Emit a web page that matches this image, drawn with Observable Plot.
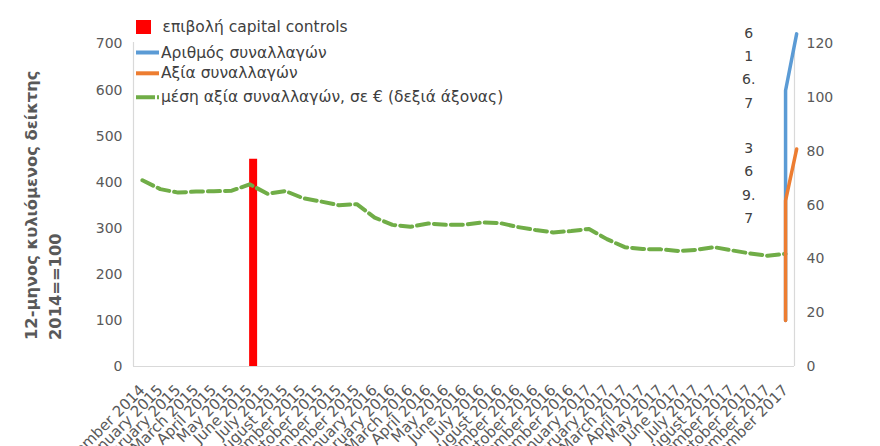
<!DOCTYPE html>
<html><head><meta charset="utf-8">
<script src="https://cdn.jsdelivr.net/npm/d3@7"></script>
<script src="https://cdn.jsdelivr.net/npm/@observablehq/plot@0.6"></script>
<style>
body{margin:0;background:#fff;}
#chart{position:relative;width:880px;height:446px;overflow:hidden;}
</style>
</head><body><div id="chart"></div>
<script>
const months = [
  "December 2014",
  "January 2015","February 2015","March 2015","April 2015","May 2015","June 2015",
  "July 2015","August 2015","September 2015","October 2015","November 2015","December 2015",
  "January 2016","February 2016","March 2016","April 2016","May 2016","June 2016",
  "July 2016","August 2016","September 2016","October 2016","November 2016","December 2016",
  "January 2017","February 2017","March 2017","April 2017","May 2017","June 2017",
  "July 2017","August 2017","September 2017","October 2017","November 2017","December 2017"
];
// μέση αξία συναλλαγών, σε € (right axis)
const avgValue = [69.3,66.0,64.7,65.1,65.2,65.4,67.8,64.3,65.3,62.6,61.4,60.0,60.4,
  55.4,52.7,52.0,53.2,52.7,52.7,53.6,53.4,51.9,50.8,49.9,50.4,51.2,47.4,
  44.4,43.7,43.6,43.0,43.4,44.4,43.2,42.1,41.2,41.9];
// Αριθμός συναλλαγών (left axis)
const countX = [36, 36, 36.62];
const countY = [100, 599, 722];
const countLabel = 616.7;
// Αξία συναλλαγών (left axis)
const valueX = [36, 36, 36.62];
const valueY = [100, 360, 472];
const valueLabel = 369.7;
// επιβολή capital controls
const ccMonth = 6;
const ccValue = 450;

const leftTicks = [0,100,200,300,400,500,600,700];
const rightTicks = [0,20,40,60,80,100,120];
const legendItems = ["επιβολή capital controls","Αριθμός συναλλαγών","Αξία συναλλαγών","μέση αξία συναλλαγών, σε € (δεξιά άξονας)"];
const yTitle = ["12-μηνος κυλιόμενος δείκτης","2014==100"];

const k = 700/120;
const avgData = avgValue.map((v,i)=>({i, v: v*k}));
const countData = countX.map((x,j)=>({x, y: countY[j]}));
const valueData = valueX.map((x,j)=>({x, y: valueY[j]}));
const wrap = v => String(v).match(/\d\.?/g).join("\n");
const labelData = [
  {x: countX[countX.length-1], y: countY[countY.length-1], t: wrap(countLabel)},
  {x: valueX[valueX.length-1], y: valueY[valueY.length-1], t: wrap(valueLabel)}
];
const FONT = "DejaVu Sans";

const chart = Plot.plot({
  width: 880, height: 446,
  marginLeft: 133, marginRight: 86, marginTop: 43.5, marginBottom: 80,
  style: {fontFamily: FONT, color: "#595959", background: "#fff", overflow: "visible"},
  x: {type: "linear", domain: [-0.5, 36.5]},
  y: {domain: [0, 700]},
  marks: [
    Plot.ruleY([0], {stroke: "#d9d9d9", strokeWidth: 1.2}),
    Plot.ruleX([-0.5, 36.5], {y1: 0, y2: 703, stroke: "#d9d9d9", strokeWidth: 1.2}),
    Plot.axisX(d3.range(months.length), {tickFormat: i => months[i], tickRotate: -45, tickSize: 0, tickPadding: 21, fontSize: 15, label: null}),
    Plot.axisY(leftTicks, {anchor: "left", tickSize: 0, tickPadding: 11, fontSize: 14, label: null}),
    Plot.axisY(rightTicks.map(v => v*k), {anchor: "right", tickSize: 0, tickPadding: 12, fontSize: 14, tickFormat: v => String(Math.round(v/k)), label: null}),
    Plot.ruleX([ccMonth], {y1: 0, y2: ccValue, stroke: "#ff0000", strokeWidth: 8, dx: 3.5}),
    Plot.line(avgData, {x: "i", y: "v", stroke: "#70ad47", strokeWidth: 4, strokeDasharray: "12,5"}),
    Plot.line(countData, {x: "x", y: "y", stroke: "#5b9bd5", strokeWidth: 3.5}),
    Plot.line(valueData, {x: "x", y: "y", stroke: "#ed7d31", strokeWidth: 3.5}),
    Plot.text(labelData, {x: "x", y: "y", text: "t", fontSize: 14, lineHeight: 1.66, textAnchor: "middle", lineAnchor: "top", dx: -48, dy: -12.5, fill: "#404040"})
  ]
});
document.getElementById("chart").appendChild(chart);

const svg = d3.select(chart);
// y-axis title
yTitle.forEach((t, j) => {
  svg.append("text")
    .attr("transform", `translate(${[31.7, 55][j]},340) rotate(-90)`)
    .attr("text-anchor", "start").attr("dominant-baseline", "central")
    .attr("font-family", FONT).attr("font-weight", "bold").attr("font-size", 16.3)
    .attr("fill", "#595959").text(t);
});
// legend
const lg = svg.append("g").attr("font-family", FONT).attr("font-size", 15.5).attr("fill", "#404040").attr("text-anchor", "start");
const ly = [27.3, 52.5, 73.3, 97.3];
lg.append("rect").attr("x", 136).attr("y", 20).attr("width", 15).attr("height", 14).attr("fill", "#ff0000");
lg.append("line").attr("x1", 136).attr("x2", 159).attr("y1", ly[1]).attr("y2", ly[1]).attr("stroke", "#5b9bd5").attr("stroke-width", 4);
lg.append("line").attr("x1", 136).attr("x2", 159).attr("y1", ly[2]).attr("y2", ly[2]).attr("stroke", "#ed7d31").attr("stroke-width", 4);
lg.append("line").attr("x1", 136).attr("x2", 159).attr("y1", ly[3]).attr("y2", ly[3]).attr("stroke", "#70ad47").attr("stroke-width", 4).attr("stroke-dasharray", "19,2,3");
legendItems.forEach((t, j) => {
  lg.append("text").attr("x", j === 0 ? 162.5 : 161).attr("y", ly[j]).attr("dominant-baseline", "central").text(t);
});
</script>
</body></html>
